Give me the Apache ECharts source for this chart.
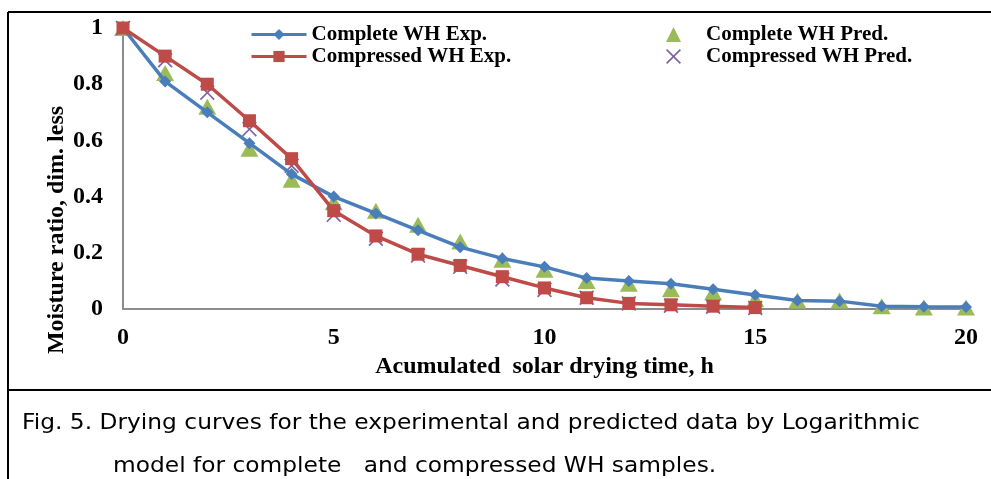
<!DOCTYPE html>
<html>
<head>
<meta charset="utf-8">
<script src="https://cdn.jsdelivr.net/npm/echarts@6/dist/echarts.min.js"></script>
<style>
    html, body { margin: 0; padding: 0; background: #ffffff; }
    #chart { width: 991px; height: 479px; }
</style>
</head>
<body>
<div id="chart"></div>
<script>
"use strict";

/* ---- data ---- */
const hours = [0, 1, 2, 3, 4, 5, 6, 7, 8, 9, 10, 11, 12, 13, 14, 15, 16, 17, 18, 19, 20];
const completeExp = [1.0, 0.81, 0.70, 0.59, 0.48, 0.40, 0.34, 0.28, 0.22, 0.18, 0.15, 0.11, 0.10, 0.09, 0.07, 0.05, 0.03, 0.028, 0.01, 0.008, 0.007];
const completePred = [1.0, 0.84, 0.72, 0.57, 0.46, 0.38, 0.35, 0.30, 0.24, 0.175, 0.14, 0.10, 0.09, 0.07, 0.06, 0.035, 0.03, 0.03, 0.01, 0.005, 0.005];
const compressedExp = [1.0, 0.90, 0.80, 0.67, 0.535, 0.35, 0.26, 0.195, 0.155, 0.115, 0.075, 0.04, 0.02, 0.015, 0.01, 0.005];
const compressedPred = [1.0, 0.885, 0.77, 0.64, 0.51, 0.335, 0.25, 0.19, 0.15, 0.105, 0.068, 0.04, 0.02, 0.012, 0.008, 0.004];

const seriesNames = ["Complete WH Exp.", "Compressed WH Exp.", "Complete WH Pred.", "Compressed WH Pred."];
const xTicks = { min: 0, max: 20, interval: 5 };
const yTicks = { min: 0, max: 1, interval: 0.2 };
const xTitle = "Acumulated  solar drying time, h";
const yTitle = "Moisture ratio, dim. less";
const caption1 = "Fig. 5. Drying curves for the experimental and predicted data by Logarithmic";
const caption2 = "model for complete   and compressed WH samples.";

const colors = {
    blue: "#4A7EBB",
    red: "#BE4B48",
    green: "#9BBB59",
    purple: "#8064A2",
    axis: "#8C8C8C"
};

const SERIF = "'Liberation Serif', 'Times New Roman', serif";
const SANS = "'DejaVu Sans', Verdana, sans-serif";
const CROSS = "path://M0,0.8 L0.8,0 L5,4.2 L9.2,0 L10,0.8 L5.8,5 L10,9.2 L9.2,10 L5,5.8 L0.8,10 L0,9.2 L4.2,5 Z";

function pairs(values){
    return values.map((v, i) => [hours[i], v]);
}

const boldText = size => ({ fontFamily: SERIF, fontWeight: "bold", fontSize: size, color: "#000" });

const chart = echarts.init(document.getElementById("chart"));

chart.setOption({
    backgroundColor: "#ffffff",
    animation: false,
    grid: { left: 123, right: 25, top: 28, bottom: 170 },
    legend: [
        {
            data: [seriesNames[0], seriesNames[1]],
            orient: "vertical",
            left: 245, top: 19,
            itemWidth: 55, itemHeight: 14, itemGap: 1,
            lineStyle: { width: 3 },
            textStyle: boldText(21)
        },
        {
            data: [seriesNames[2], seriesNames[3]],
            orient: "vertical",
            left: 661, top: 19,
            itemWidth: 15, itemHeight: 15, itemGap: 1,
            textStyle: { ...boldText(21), padding: [0, 0, 0, 20] }
        }
    ],
    xAxis: {
        type: "value",
        min: xTicks.min, max: xTicks.max, interval: xTicks.interval,
        name: xTitle,
        nameLocation: "middle",
        nameGap: 40,
        nameTextStyle: boldText(24),
        axisLine: { lineStyle: { color: colors.axis, width: 2 } },
        axisTick: { show: false },
        splitLine: { show: false },
        axisLabel: { margin: 17, ...boldText(24) }
    },
    yAxis: {
        type: "value",
        min: yTicks.min, max: yTicks.max, interval: yTicks.interval,
        axisLine: { show: true, lineStyle: { color: colors.axis, width: 2 } },
        axisTick: { show: false },
        splitLine: { show: false },
        axisLabel: { margin: 20, ...boldText(24) }
    },
    graphic: [
        { type: "line", shape: { x1: 8, y1: 12, x2: 991, y2: 12 }, style: { stroke: "#000", lineWidth: 2 } },
        { type: "line", shape: { x1: 8, y1: 12, x2: 8, y2: 479 }, style: { stroke: "#000", lineWidth: 2 } },
        { type: "line", shape: { x1: 8, y1: 390, x2: 991, y2: 390 }, style: { stroke: "#000", lineWidth: 2 } },
        {
            type: "text", x: 57, y: 230, rotation: Math.PI / 2,
            style: { text: yTitle, fontFamily: SERIF, fontWeight: "bold", fontSize: 24, fill: "#000", align: "center", verticalAlign: "middle" }
        },
        {
            type: "text", x: 22, y: 423, scaleX: 1.06,
            style: { text: caption1, fontFamily: SANS, fontSize: 22, fill: "#000", align: "left", verticalAlign: "middle" }
        },
        {
            type: "text", x: 113, y: 466, scaleX: 1.06,
            style: { text: caption2, fontFamily: SANS, fontSize: 22, fill: "#000", align: "left", verticalAlign: "middle" }
        }
    ],
    series: [
        {
            name: seriesNames[0], type: "line", data: pairs(completeExp),
            symbol: "diamond", symbolSize: 12,
            lineStyle: { color: colors.blue, width: 3.5 },
            itemStyle: { color: colors.blue }
        },
        {
            name: seriesNames[1], type: "line", data: pairs(compressedExp),
            symbol: "rect", symbolSize: 13,
            lineStyle: { color: colors.red, width: 3.5 },
            itemStyle: { color: colors.red }
        },
        {
            name: seriesNames[2], type: "scatter", data: pairs(completePred),
            symbol: "triangle", symbolSize: [18, 16],
            itemStyle: { color: colors.green, opacity: 1 }
        },
        {
            name: seriesNames[3], type: "scatter", data: pairs(compressedPred),
            symbol: CROSS, symbolSize: 15,
            itemStyle: { color: colors.purple, opacity: 1 }
        }
    ]
});

window.addEventListener("resize", () => chart.resize());
</script>
</body>
</html>
